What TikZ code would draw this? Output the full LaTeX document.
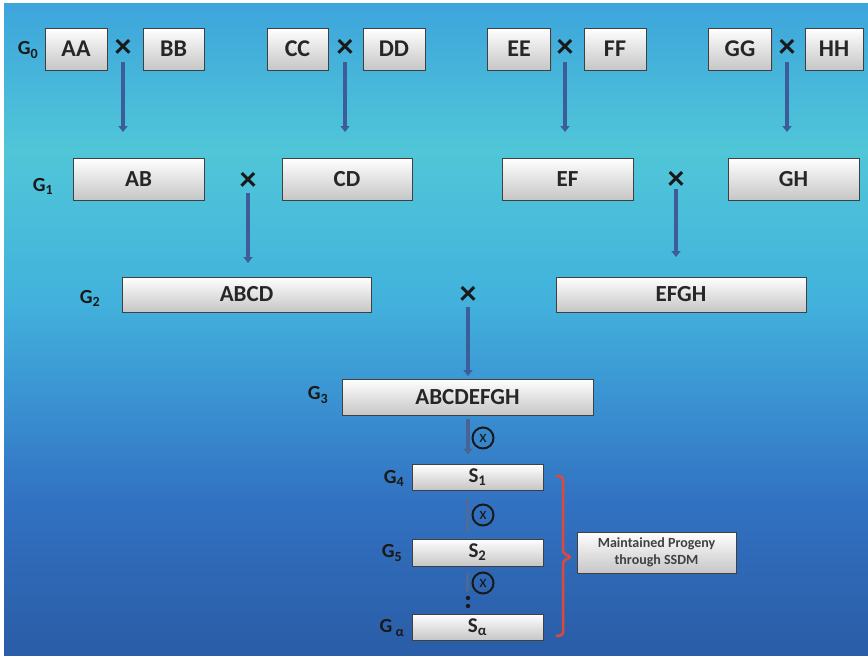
\documentclass[tikz,border=0pt]{standalone}
\usepackage{fontspec}
\setmainfont{Carlito}
\usetikzlibrary{arrows.meta,shadows}
\definecolor{bgA}{HTML}{3EA6DC}
\definecolor{bgB}{HTML}{50C6D8}
\definecolor{bgC}{HTML}{42B2DC}
\definecolor{bgD}{HTML}{3A92D2}
\definecolor{bgE}{HTML}{3272C2}
\definecolor{bgF}{HTML}{2B5EA8}
\definecolor{arrblue}{HTML}{3D5C9A}
\definecolor{bracered}{HTML}{E0483C}
\definecolor{boxbot}{HTML}{C6C6C6}
\pgfdeclareverticalshading{bgshade}{100bp}{color(0bp)=(bgF); color(26bp)=(bgF); color(36.9bp)=(bgE); color(44.6bp)=(bgD); color(52.3bp)=(bgC); color(63.7bp)=(bgB); color(74.5bp)=(bgA); color(100bp)=(bgA)}
\tikzset{
  box/.style={draw=black!75, line width=1pt, top color=white, bottom color=boxbot,
    inner sep=0pt, text=black!85,
    drop shadow={shadow xshift=1.2pt, shadow yshift=-1.2pt, opacity=0.3}},
  bigtext/.style={font=\fontsize{24}{26}\selectfont\bfseries},
  midtext/.style={font=\fontsize{23}{25}\selectfont\bfseries},
  stext/.style={font=\fontsize{21}{23}\selectfont\bfseries},
  glabel/.style={font=\fontsize{20}{22}\selectfont\bfseries, text=black!90, inner sep=0pt},
  cross/.style={font=\fontsize{34}{34}\selectfont\bfseries, text=black!90, inner sep=0pt},
  arr/.style={draw=arrblue, line width=3.2pt, -{Triangle[width=9pt,length=6pt]}},
  farr/.style={draw=arrblue!60!gray, line width=3pt, opacity=0.75},
  otimes/.style={circle, draw=black!90, line width=2pt, minimum size=21pt, inner sep=0pt,
    font=\fontsize{17}{17}\selectfont, text=black!90},
}
\begin{document}
\begin{tikzpicture}[x=1pt,y=-1pt]
\useasboundingbox (0,0) rectangle (868,656);
\fill[white] (0,0) rectangle (868,656);
\shade[shading=bgshade] (4,3) rectangle (868,656);

% G0
\node[glabel] (g0) at (28,50) {G\textsubscript{0}};
\node[box,bigtext,minimum width=62pt,minimum height=42pt] (aa) at (76,49) {AA};
\node[box,bigtext,minimum width=61pt,minimum height=42pt] (bb) at (173.5,49) {BB};
\node[box,bigtext,minimum width=61pt,minimum height=42pt] (cc) at (297.5,49) {CC};
\node[box,bigtext,minimum width=62pt,minimum height=42pt] (dd) at (394,49) {DD};
\node[box,bigtext,minimum width=63pt,minimum height=42pt] (ee) at (519,49) {EE};
\node[box,bigtext,minimum width=62pt,minimum height=42pt] (ff) at (615,49) {FF};
\node[box,bigtext,minimum width=63pt,minimum height=42pt] (gg) at (740,49) {GG};
\node[box,bigtext,minimum width=58pt,minimum height=42pt] (hh) at (834,49) {HH};
\node[cross] (x1) at (123,48) {×};
\node[cross] (x2) at (345,48) {×};
\node[cross] (x3) at (565,48) {×};
\node[cross] (x4) at (787,48) {×};
\coordinate (e1) at (123,132);
\coordinate (e2) at (345,132);
\coordinate (e3) at (565,132);
\coordinate (e4) at (787,132);
\draw[arr, shorten <=5pt] (x1.south) -- (e1);
\draw[arr, shorten <=5pt] (x2.south) -- (e2);
\draw[arr, shorten <=5pt] (x3.south) -- (e3);
\draw[arr, shorten <=5pt] (x4.south) -- (e4);

% G1
\node[glabel] (g1) at (43,186) {G\textsubscript{1}};
\node[box,midtext,minimum width=131pt,minimum height=42pt] (ab) at (138.5,179) {AB};
\node[box,midtext,minimum width=130pt,minimum height=42pt] (cd) at (347,179) {CD};
\node[box,midtext,minimum width=131pt,minimum height=42pt] (ef) at (567.5,179) {EF};
\node[box,midtext,minimum width=131pt,minimum height=42pt] (gh) at (793.5,179) {GH};
\node[cross] (x5) at (248,181) {×};
\node[cross] (x6) at (676,180) {×};
\coordinate (e5) at (248,263);
\coordinate (e6) at (676,257);
\draw[arr, shorten <=3pt] (x5.south) -- (e5);
\draw[arr, shorten <=0pt] (x6.south) -- (e6);

% G2
\node[glabel] (g2) at (90,298) {G\textsubscript{2}};
\node[box,midtext,minimum width=249pt,minimum height=35pt] (abcd) at (246.5,294.5) {ABCD};
\node[box,midtext,minimum width=250pt,minimum height=35pt] (efgh) at (681,294.5) {EFGH};
\node[cross] (x7) at (468,295) {×};
\coordinate (e7) at (468,376);
\draw[arr, shorten <=3pt] (x7.south) -- (e7);

% G3
\node[glabel] (g3) at (318,395) {G\textsubscript{3}};
\node[box,midtext,minimum width=251pt,minimum height=36pt] (abcdefgh) at (467.5,397) {ABCDEFGH};

% G4
\node[glabel] (g4) at (394,478) {G\textsubscript{4}};
\node[box,stext,minimum width=131pt,minimum height=26pt] (s1) at (477.5,477) {S\textsubscript{1}};
\draw[arr, draw=arrblue!80!gray, shorten <=3pt, shorten >=9pt] (abcdefgh.south -| 468,0) -- (s1.north -| 468,0);
\node[otimes] (o1) at (483,438) {x};

% G5
\node[glabel] (g5) at (392,553) {G\textsubscript{5}};
\node[box,stext,minimum width=131pt,minimum height=27pt] (s2) at (477.5,552.5) {S\textsubscript{2}};
\draw[farr, shorten <=7pt, shorten >=7pt] (s1.south -| 467,0) -- (s2.north -| 467,0);
\node[otimes] (o2) at (483,515) {x};

% G alpha
\node[glabel] (ga) at (392,628) {G\,\textsubscript{α}};
\node[box,stext,minimum width=131pt,minimum height=26pt] (sa) at (477.5,627) {S\textsubscript{α}};
\coordinate (dend) at (467,592);
\draw[farr, shorten <=6pt] (s2.south -| 467,0) -- (dend);
\node[otimes] (o3) at (483,583) {x};
\fill[black!90] (468,598) circle (2.2pt);
\fill[black!90] (468,606) circle (2.2pt);

% brace and note
\draw[bracered, line width=2.5pt, rounded corners=2.5pt]
  (556,476) -- (563,477) -- (563,553) -- (571,557) -- (563,561) -- (563,635) -- (556,636);
\node[box, font=\fontsize{14}{16.5}\selectfont\bfseries, text=black!75, align=center,
  minimum width=159pt, minimum height=41pt] (note) at (656.5,552.5) {Maintained Progeny\\through SSDM};
\end{tikzpicture}
\end{document}
